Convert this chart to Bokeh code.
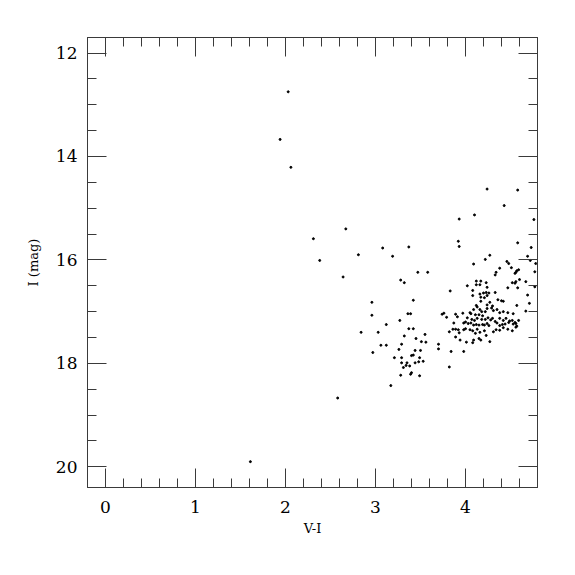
from bokeh.plotting import figure
from bokeh.models import LinearAxis, SingleIntervalTicker, Range1d
from bokeh.embed import file_html
from bokeh.resources import INLINE

# Colour-magnitude diagram data (V-I colour, I magnitude)
pts = [
    (2.03,12.75),(1.94,13.67),(2.06,14.21),(2.31,15.59),(2.67,15.40),(2.38,16.01),(2.81,15.90),(2.64,16.33),
    (1.61,19.90),(2.58,18.67),(3.17,18.43),
    (3.08,15.77),(3.37,15.75),(3.19,15.93),(3.47,16.24),(3.58,16.24),(3.28,16.39),(3.32,16.44),(3.42,16.78),(3.83,16.60),
    (3.93,15.21),(4.10,15.13),(3.92,15.64),(3.93,15.74),(4.24,14.63),(4.58,14.65),(4.43,14.95),(4.76,15.22),
    (2.96,16.82),(2.96,17.07),(3.36,17.04),(3.39,17.04),(3.27,17.17),(3.12,17.25),(3.37,17.33),(3.42,17.33),
    (2.84,17.40),(3.03,17.40),(3.32,17.47),(3.55,17.44),(3.45,17.52),(3.29,17.63),(3.06,17.65),(3.12,17.65),
    (3.51,17.58),(3.56,17.59),(3.26,17.73),(3.44,17.75),(3.50,17.75),(2.97,17.79),(3.21,17.89),(3.29,17.89),
    (3.40,17.85),(3.42,17.84),(3.49,17.89),(3.29,17.99),(3.35,17.99),(3.44,17.99),(3.48,17.97),(3.53,17.96),
    (3.34,18.04),(3.38,18.05),(3.31,18.08),(3.40,18.18),(3.39,18.21),(3.28,18.23),(3.49,18.24),
    (3.70,17.63),(3.70,17.72),(3.82,18.07),(3.84,17.77),(3.98,17.77),
    (4.58,15.67),(4.73,15.76),(4.69,15.93),(4.72,16.01),(4.78,16.07),(4.27,15.91),(4.22,15.99),(4.09,16.08),
    (4.46,16.03),(4.48,16.07),(4.38,16.16),(4.51,16.15),(4.59,16.19),(4.57,16.21),(4.56,16.24),(4.55,16.26),
    (4.77,16.23),(4.34,16.24),(4.33,16.29),
    (4.12,16.41),(4.17,16.41),(4.12,16.48),(4.16,16.48),(4.23,16.44),(4.02,16.50),(4.52,16.44),(4.56,16.42),
    (4.55,16.45),(4.60,16.38),(4.67,16.42),(4.77,16.52),(4.47,16.54),(4.58,16.54),(4.24,16.53),
    (4.08,16.59),(4.08,16.69),(4.16,16.66),(4.20,16.64),(4.23,16.63),(4.26,16.64),(4.33,16.63),(4.17,16.72),
    (4.21,16.73),(4.24,16.69),(4.36,16.77),(4.40,16.79),(4.42,16.80),(4.69,16.68),(4.71,16.84),(4.17,16.80),(4.27,16.82),
    (4.30,16.89),(4.29,16.93),(4.24,16.87),(4.24,16.94),(4.22,17.00),(4.12,16.88),(4.13,16.91),(4.09,16.96),
    (4.16,16.96),(4.18,17.00),(4.31,16.98),(4.35,16.96),(4.38,17.02),(4.42,17.00),(4.47,17.02),(4.53,17.04),
    (4.57,16.88),(4.67,16.99),
    (4.11,17.06),(4.15,17.06),(4.19,17.08),(4.05,17.02),(4.06,17.04),(3.97,17.03),(3.89,17.05),(3.91,17.10),
    (3.74,17.05),(3.76,17.03),(3.79,17.11),(4.02,17.12),
    (4.07,17.15),(4.10,17.17),(4.13,17.13),(4.18,17.15),(4.22,17.15),(4.25,17.12),(4.28,17.16),(4.30,17.13),(4.33,17.19),
    (4.38,17.13),(4.42,17.17),(4.45,17.13),(4.49,17.18),(4.52,17.17),(4.56,17.23),(4.59,17.17),
    (3.87,17.22),(3.89,17.34),(3.92,17.35),(3.98,17.22),(4.00,17.20),(4.03,17.23),(4.06,17.22),
    (4.09,17.26),(4.12,17.25),(4.15,17.26),(4.19,17.25),(4.21,17.26),(4.24,17.23),(4.26,17.27),
    (4.35,17.22),(4.38,17.27),(4.41,17.25),(4.44,17.24),(4.48,17.21),(4.53,17.24),(4.55,17.21),(4.57,17.28),
    (3.82,17.39),(3.86,17.34),(3.93,17.41),(3.98,17.35),(4.00,17.33),
    (4.05,17.35),(4.08,17.37),(4.11,17.42),(4.13,17.34),(4.16,17.40),(4.21,17.37),(4.23,17.46),
    (4.31,17.39),(4.34,17.35),(4.38,17.36),(4.42,17.31),(4.47,17.34),(4.52,17.37),(4.56,17.30),
    (3.89,17.49),(3.94,17.55),(4.01,17.59),(4.08,17.60),(4.09,17.55),(4.15,17.52),(4.17,17.55),(4.27,17.58),
]
vi = [a for a, b in pts]
imag = [b for a, b in pts]

x_label = "V-I"
y_label = "I (mag)"

FONT = "DejaVu Serif"
LINE = "#3a3a3a"

p = figure(frame_width=450, frame_height=450,
           x_range=Range1d(-0.2, 4.8), y_range=Range1d(20.4, 11.7),
           x_axis_type=None, y_axis_type=None,
           output_backend="svg", toolbar_location=None,
           min_border_left=87, min_border_top=37, min_border_right=28, min_border_bottom=80,
           background_fill_color="white", border_fill_color="white")
p.outline_line_color = LINE
p.outline_line_width = 1
p.xgrid.visible = False
p.ygrid.visible = False


def style(ax, show_labels):
    ax.axis_line_color = LINE
    ax.major_tick_line_color = LINE
    ax.minor_tick_line_color = LINE
    ax.major_tick_in = 19
    ax.major_tick_out = 0
    ax.minor_tick_in = 9
    ax.minor_tick_out = 0
    ax.major_label_text_font = FONT
    ax.major_label_text_font_size = "17px"
    ax.major_label_text_font_style = "normal"
    ax.major_label_text_color = "black" if show_labels else None
    ax.axis_label_text_font = FONT
    ax.axis_label_text_font_size = "13px"
    ax.axis_label_text_font_style = "normal"
    ax.axis_label_text_color = "black"


xt = SingleIntervalTicker(interval=1, num_minor_ticks=5)
yt = SingleIntervalTicker(interval=2, num_minor_ticks=4)

bottom = LinearAxis(ticker=xt, axis_label=x_label)
style(bottom, True)
bottom.major_label_standoff = 13
bottom.axis_label_standoff = 5
top = LinearAxis(ticker=xt)
style(top, False)
left = LinearAxis(ticker=yt, axis_label=y_label)
style(left, True)
left.major_label_standoff = 10
left.axis_label_standoff = 12
right = LinearAxis(ticker=yt)
style(right, False)

p.add_layout(bottom, "below")
p.add_layout(top, "above")
p.add_layout(left, "left")
p.add_layout(right, "right")

p.scatter(vi, imag, size=2.0, color="black", marker="circle")

open("out.html", "w").write(file_html(p, INLINE))
